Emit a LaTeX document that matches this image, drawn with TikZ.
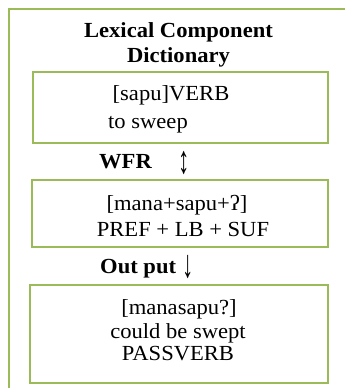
\documentclass[tikz,border=0pt]{standalone}
\usepackage{fontspec}
\setmainfont{Liberation Serif}
\newfontfamily\bodyfont[FakeStretch=1.05]{Liberation Serif}
\definecolor{framegreen}{HTML}{9BBB59}
\newcommand{\tallarrow}[1]{\scalebox{1}[1.75]{#1}}
\tikzset{
  frameline/.style={draw=framegreen, line width=2.6pt},
  lexbox/.style={frameline, fill=white},
  heading/.style={font=\bodyfont\fontsize{21.5}{26}\selectfont\bfseries, anchor=base, inner sep=0pt},
  entry/.style={font=\bodyfont\fontsize{21.5}{26}\selectfont, anchor=base, inner sep=0pt},
  arrowglyph/.style={font=\fontsize{22.5}{26}\selectfont, anchor=center, inner sep=0pt},
}
\begin{document}
\begin{tikzpicture}[x=1pt,y=-1pt]
\useasboundingbox (0,0) rectangle (345,388);
\fill[white] (0,0) rectangle (345,388);
% outer frame, running off the right and bottom edges
\begin{scope}
\clip (0,0) rectangle (345,388);
\draw[frameline] (9,400) -- (9,9) -- (360,9);
\end{scope}
% title
\node[heading] (t1) at (178.5,37) {Lexical Component};
\node[heading] (t2) at (178.5,62) {Dictionary};
% lexicon entry
\draw[lexbox] (33,72) rectangle (328,143);
\node[entry] (b1a) at (171,100) {[sapu]VERB};
\node[entry] (b1b) at (148,128) {to sweep};
% word formation rule
\node[heading] (wfr) at (125.5,168) {WFR};
\node[arrowglyph] (ud) at (184,163) {\tallarrow{↕}};
\draw[lexbox] (32,180) rectangle (328,247);
\node[entry] (b2a) at (177,210) {[mana+sapu+ʔ]};
\node[entry] (b2b) at (183,236) {PREF + LB + SUF};
% output
\node[heading, anchor=base west] (out) at (100,273) {Out put};
\node[arrowglyph] (dn) at (188,267) {\tallarrow{↓}};
\draw[lexbox] (30,285) rectangle (328,383);
\node[entry] (b3a) at (179,314) {[manasapu?]};
\node[entry] (b3b) at (178,338) {could be swept};
\node[entry] (b3c) at (178,360) {PASSVERB};
\end{tikzpicture}
\end{document}
